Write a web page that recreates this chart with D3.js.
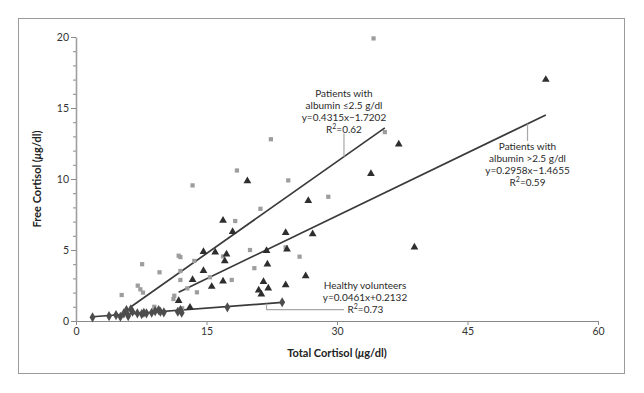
<!DOCTYPE html>
<html>
<head>
<meta charset="utf-8">
<script src="https://cdn.jsdelivr.net/npm/d3@7"></script>
<style>
body { margin: 0; background: #fff; }
text { font-family: Lato, "Open Sans", sans-serif; }
</style>
</head>
<body>
<div id="chart"></div>
<script>
var svgWidth = 644;
var svgHeight = 393;

// patients with albumin <=2.5 g/dl (gray squares)
var lowAlbumin = [
  [34.2, 19.9], [35.5, 13.3], [22.4, 12.8], [13.4, 9.55], [18.5, 10.6], [24.4, 9.9],
  [29.0, 8.75], [21.2, 7.9], [18.3, 7.04], [20.0, 5.0], [16.9, 4.55], [13.6, 4.23],
  [24.1, 5.19], [25.7, 4.53], [20.5, 3.72], [17.9, 2.89], [15.4, 3.08], [13.9, 2.02],
  [5.25, 1.83], [7.6, 4.0], [7.1, 2.49], [7.4, 2.23], [7.7, 2.0], [9.6, 3.43],
  [9.0, 1.0], [11.2, 1.55], [11.3, 1.78], [11.8, 4.6], [12.0, 4.5], [12.0, 3.52],
  [12.0, 2.89], [12.8, 2.3], [12.2, 0.9]
];

// patients with albumin >2.5 g/dl (black triangles)
var highAlbumin = [
  [54.0, 17.0], [37.1, 12.45], [33.9, 10.37], [38.9, 5.19], [19.7, 9.86], [26.7, 8.47],
  [16.9, 7.08], [18.0, 6.29], [24.1, 6.22], [27.2, 6.13], [14.65, 4.88], [16.0, 4.84],
  [17.3, 4.7], [17.1, 4.23], [21.9, 4.95], [24.25, 5.06], [22.0, 3.99], [14.65, 3.54],
  [26.4, 3.17], [16.9, 2.8], [15.6, 2.42], [21.55, 2.76], [24.1, 2.54], [21.0, 2.17],
  [22.1, 2.3], [21.3, 1.89], [13.4, 2.9], [11.8, 1.43], [13.1, 0.96]
];

// healthy volunteers (diamonds)
var healthy = [
  [1.9, 0.26], [3.8, 0.35], [4.6, 0.42], [5.1, 0.3], [5.5, 0.54], [5.8, 0.77],
  [6.0, 0.35], [6.3, 0.82], [6.5, 0.65], [7.05, 0.54], [7.55, 0.49], [7.8, 0.58],
  [8.1, 0.54], [8.7, 0.58], [9.1, 0.7], [9.5, 0.77], [9.7, 0.65], [10.1, 0.61],
  [11.7, 0.65], [12.0, 0.77], [12.15, 0.58], [17.4, 0.96], [23.7, 1.32]
];

// regression fits: slope, intercept, x range
var fitSlopes = [0.4315, 0.2958, 0.0461];
var fitIntercepts = [-1.7202, -1.4655, 0.2132];
var fitRanges = [[6.2, 35.5], [11.8, 54.0], [1.9, 23.7]];

var xTicks = [0, 15, 30, 45, 60];
var yTicks = [0, 5, 10, 15, 20];

var labelLow = ["Patients with", "albumin \u22642.5 g/dl", "y=0.4315x\u22121.7202", "R\u00b2=0.62"];
var labelHigh = ["Patients with", "albumin >2.5 g/dl", "y=0.2958x\u22121.4655", "R\u00b2=0.59"];
var labelHealthy = ["Healthy volunteers", "y=0.0461x+0.2132", "R\u00b2=0.73"];

var svg = d3.select("#chart")
  .append("svg")
  .attr("width", svgWidth)
  .attr("height", svgHeight);

// outer frame
svg.append("rect")
  .attr("x", 18.5).attr("y", 18.5)
  .attr("width", 606).attr("height", 355)
  .attr("fill", "none")
  .attr("stroke", "#9a9a9a")
  .attr("stroke-width", 1);

var x = d3.scaleLinear().domain([0, 60]).range([76, 598]);
var y = d3.scaleLinear().domain([0, 20]).range([321, 37]);

// x axis
var xAxis = svg.append("g")
  .attr("transform", "translate(0,321)")
  .call(d3.axisBottom(x).tickValues(xTicks).tickSizeInner(4).tickSizeOuter(0).tickPadding(3));
xAxis.select(".domain").attr("stroke", "#8a8a8a");
xAxis.selectAll(".tick line").attr("stroke", "#8a8a8a");
xAxis.selectAll("text").attr("font-family", null).attr("font-size", 10.5).attr("fill", "#333");

// y axis: minor ticks then major ticks
var yMinor = svg.append("g")
  .attr("transform", "translate(76,0)")
  .call(d3.axisLeft(y).ticks(20).tickSizeInner(3).tickSizeOuter(0).tickFormat(""));
yMinor.select(".domain").remove();
yMinor.selectAll(".tick line").attr("stroke", "#8a8a8a");

var yAxis = svg.append("g")
  .attr("transform", "translate(76,0)")
  .call(d3.axisLeft(y).tickValues(yTicks).tickSizeInner(5).tickSizeOuter(0).tickPadding(2));
yAxis.select(".domain").attr("stroke", "#a0a0a0").attr("stroke-width", 1.6);
yAxis.selectAll(".tick line").attr("stroke", "#8a8a8a");
yAxis.selectAll("text").attr("font-family", null).attr("font-size", 10.5).attr("fill", "#333");

// axis titles
var xTitle = svg.append("text")
  .attr("x", x(30)).attr("y", 357)
  .attr("text-anchor", "middle")
  .attr("font-size", 11).attr("font-weight", "bold").attr("fill", "#222");
xTitle.append("tspan").text("Total Cortisol (");
xTitle.append("tspan").attr("font-style", "italic").text("\u03bc");
xTitle.append("tspan").text("g/dl)");

var yTitle = svg.append("text")
  .attr("transform", "translate(41," + y(10) + ") rotate(-90)")
  .attr("text-anchor", "middle")
  .attr("font-size", 11).attr("font-weight", "bold").attr("fill", "#222");
yTitle.append("tspan").text("Free Cortisol (");
yTitle.append("tspan").attr("font-style", "italic").text("\u03bc");
yTitle.append("tspan").text("g/dl)");

// regression lines
var lineColor = "#3a3a3a";
fitSlopes.forEach(function(m, i) {
  var b = fitIntercepts[i];
  var r = fitRanges[i];
  svg.append("line")
    .attr("x1", x(r[0])).attr("y1", y(m * r[0] + b))
    .attr("x2", x(r[1])).attr("y2", y(m * r[1] + b))
    .attr("stroke", lineColor)
    .attr("stroke-width", 1.7);
});

// markers
svg.append("g").selectAll("path").data(lowAlbumin).enter()
  .append("path")
  .attr("d", d3.symbol().type(d3.symbolSquare).size(18))
  .attr("transform", d => `translate(${x(d[0])},${y(d[1])})`)
  .attr("fill", "#9d9d9d");

svg.append("g").selectAll("path").data(highAlbumin).enter()
  .append("path")
  .attr("d", d3.symbol().type(d3.symbolTriangle).size(26))
  .attr("transform", d => `translate(${x(d[0])},${y(d[1])})`)
  .attr("fill", "#2e2e2e");

svg.append("g").selectAll("path").data(healthy).enter()
  .append("path")
  .attr("d", d3.symbol().type(d3.symbolDiamond).size(30))
  .attr("transform", d => `translate(${x(d[0])},${y(d[1])})`)
  .attr("fill", "#4d4d4d");

// leader lines
var leadColor = "#a8a8a8";
svg.append("line")
  .attr("x1", x(30.8)).attr("y1", y(13.2))
  .attr("x2", x(30.8)).attr("y2", y(fitSlopes[0] * 30.8 + fitIntercepts[0]))
  .attr("stroke", leadColor).attr("stroke-width", 1.2);
svg.append("line")
  .attr("x1", x(51.9)).attr("y1", y(fitSlopes[1] * 51.9 + fitIntercepts[1]))
  .attr("x2", x(51.9)).attr("y2", y(12.68))
  .attr("stroke", leadColor).attr("stroke-width", 1.2);
svg.append("path")
  .attr("d", d3.line()([
    [x(21.9), y(fitSlopes[2] * 21.9 + fitIntercepts[2])],
    [x(21.9), y(0.8)],
    [x(30.8), y(0.8)]
  ]))
  .attr("fill", "none")
  .attr("stroke", leadColor).attr("stroke-width", 1.2);

// annotation text
function block(lines, cx, top, anchor) {
  var t = svg.append("text")
    .attr("font-size", 10).attr("fill", "#2a2a2a")
    .attr("text-anchor", anchor || "middle");
  lines.forEach(function(s, i) {
    var ts = t.append("tspan").attr("x", cx).attr("y", top + i * 12.2);
    if (s.indexOf("R\u00b2") === 0) {
      ts.text("R");
      ts.append("tspan").attr("font-size", 7).attr("dy", -4).text("2");
      ts.append("tspan").attr("dy", 4).text(s.slice(2));
    } else {
      ts.text(s);
    }
  });
  return t;
}
block(labelLow, x(30.8), 96.5);
block(labelHigh, x(51.9), 149.5);
block(labelHealthy.slice(0, 2), 365, 288.5);
block(labelHealthy.slice(2), 347.5, 313, "start");
</script>
</body>
</html>
